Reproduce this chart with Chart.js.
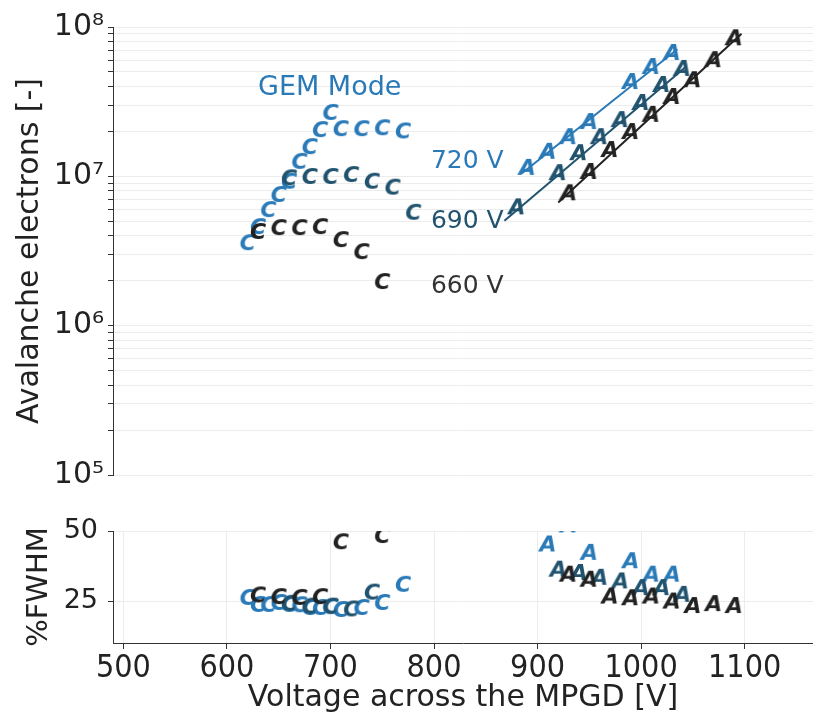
<!DOCTYPE html>
<html>
<head>
<meta charset="utf-8">
<script src="https://cdn.jsdelivr.net/npm/chart.js@4"></script>
<style>
  body { margin: 0; background: #fff; }
  #wrap { position: relative; width: 813px; height: 716px; }
  canvas { position: absolute; left: 0; }
</style>
</head>
<body>
<div id="wrap">
  <canvas id="gain" width="813" height="500" style="top:0"></canvas>
  <canvas id="fwhm" width="813" height="216" style="top:500px"></canvas>
</div>
<script>
// GEM mode (C markers)
const gemV720 = [620, 630, 640, 650, 660, 670, 680, 690, 700, 710, 730, 750, 770];
const gemGain720 = [3.57e6, 4.57e6, 5.94e6, 7.5e6, 9.2e6, 1.25e7, 1.57e7, 2.04e7, 2.66e7, 2.07e7, 2.07e7, 2.1e7, 2.0e7];
const gemFwhm720 = [26.1, 23.6, 23.6, 24.3, 23.6, 23.5, 22.5, 22.5, 22.8, 21.8, 22.5, 24.3, 30.8];

const gemV690 = [660, 680, 700, 720, 740, 760, 780];
const gemGain690 = [9.7e6, 9.9e6, 9.9e6, 1.02e7, 9.2e6, 8.4e6, 5.7e6];
const gemFwhm690 = [24, 23, 23, 22, 28, null, null];

const gemV660 = [630, 650, 670, 690, 710, 730, 750];
const gemGain660 = [4.24e6, 4.5e6, 4.5e6, 4.57e6, 3.74e6, 3.11e6, 1.96e6];
const gemFwhm660 = [27, 26.4, 26.1, 26.4, 46, null, 48.2];

// Avalanche mode (A markers)
const avV720 = [890, 910, 930, 950, 990, 1010, 1030];
const avGain720 = [1.14e7, 1.46e7, 1.83e7, 2.31e7, 4.28e7, 5.4e7, 6.7e7];
const avFwhm720 = [null, 45.2, 52, 42.2, 39.2, 34.4, 34.4];

const avV690 = [880, 920, 940, 960, 980, 1000, 1020, 1040];
const avGain690 = [6.2e6, 1.05e7, 1.43e7, 1.83e7, 2.38e7, 3.1e7, 4.09e7, 5.24e7];
const avFwhm690 = [null, 36.2, 35, 33.3, 32, 29.6, 29.6, 27.2];

const avV660 = [930, 950, 970, 990, 1010, 1030, 1050, 1070, 1090];
const avGain660 = [7.7e6, 1.07e7, 1.5e7, 1.98e7, 2.58e7, 3.4e7, 4.4e7, 6.0e7, 8.4e7];
const avFwhm660 = [34.4, 32.6, 26.6, 26, 26.6, 24.8, 23.2, 23.9, 23.2];

// exponential fits through the avalanche points (end points)
const fitV720 = [885, 1035];
const fitGain720 = [1.05e7, 7.1e7];
const fitV690 = [868, 1043];
const fitGain690 = [5.05e6, 5.4e7];
const fitV660 = [920, 1097];
const fitGain660 = [6.67e6, 9.0e7];

const xTicks = [500, 600, 700, 800, 900, 1000, 1100];
const fwhmTicks = [25, 50];

const c720 = '#2a7ab8';
const c690 = '#21536f';
const c660 = '#222222';

Chart.defaults.font.family = '"DejaVu Sans", sans-serif';
Chart.defaults.color = '#222';

function letterMarker(ch, color) {
  const c = document.createElement('canvas');
  c.width = 26; c.height = 26;
  const g = c.getContext('2d');
  g.font = 'bold italic 22px "DejaVu Sans"';
  g.fillStyle = color;
  g.textAlign = 'center';
  g.textBaseline = 'middle';
  g.fillText(ch, 13, 14);
  return c;
}

const pts = (xs, ys) => xs.map((v, i) => ({ x: v, y: ys[i] }));

function markers(xs, ys, ch, color, order) {
  return {
    data: pts(xs, ys), pointStyle: letterMarker(ch, color), order: order,
    showLine: false, pointRadius: 10, pointHoverRadius: 10
  };
}
function fitLine(xs, ys, color, order) {
  return {
    data: pts(xs, ys), showLine: true, borderColor: color, borderWidth: 2,
    pointRadius: 0, order: order
  };
}

const notes = [
  { text: 'GEM Mode', x: 630, y: 3.9e7, color: c720, size: 27 },
  { text: '720 V', x: 797, y: 1.25e7, color: c720, size: 25 },
  { text: '690 V', x: 797, y: 5.0e6, color: c690, size: 25 },
  { text: '660 V', x: 797, y: 1.84e6, color: '#333', size: 25 }
];
const notePlugin = {
  id: 'notes',
  afterDatasetsDraw(chart) {
    const { ctx, scales } = chart;
    notes.forEach(n => {
      ctx.save();
      ctx.font = n.size + 'px "DejaVu Sans"';
      ctx.fillStyle = n.color;
      ctx.textBaseline = 'middle';
      ctx.fillText(n.text, scales.x.getPixelForValue(n.x), scales.y.getPixelForValue(n.y));
      ctx.restore();
    });
  }
};

const sup = { 5: '⁵', 6: '⁶', 7: '⁷', 8: '⁸' };
const xScale = (show) => ({
  type: 'linear', min: 490, max: 1166, display: show,
  afterBuildTicks: s => { s.ticks = xTicks.map(v => ({ value: v })); },
  afterFit: s => { if (show) s.height = 73; },
  grid: { color: '#ececec', tickColor: '#333', tickLength: 6 },
  border: { color: '#333' },
  ticks: {
    font: { size: 32, family: '"DejaVu Sans Condensed", "DejaVu Sans", sans-serif' },
    padding: 0, maxRotation: 0, callback: v => String(v)
  },
  title: { display: true, text: 'Voltage across the MPGD [V]', font: { size: 30 }, padding: 0 }
});

new Chart(document.getElementById('gain'), {
  type: 'scatter',
  data: {
    datasets: [
      fitLine(fitV660, fitGain660, c660, 3),
      fitLine(fitV690, fitGain690, c690, 4),
      fitLine(fitV720, fitGain720, c720, 5),
      markers(gemV660, gemGain660, 'C', c660, 0),
      markers(gemV690, gemGain690, 'C', c690, 1),
      markers(gemV720, gemGain720, 'C', c720, 2),
      markers(avV660, avGain660, 'A', c660, 0),
      markers(avV690, avGain690, 'A', c690, 1),
      markers(avV720, avGain720, 'A', c720, 2)
    ]
  },
  options: {
    responsive: false, animation: false,
    layout: { autoPadding: false, padding: { top: 27, bottom: 25, left: 0, right: 0 } },
    plugins: { legend: { display: false }, tooltip: { enabled: false } },
    scales: {
      x: xScale(false),
      y: {
        type: 'logarithmic', min: 1e5, max: 1e8,
        afterBuildTicks: s => {
          const t = [];
          for (let e = 5; e < 8; e++) for (let m = 1; m < 10; m++) t.push({ value: m * Math.pow(10, e) });
          t.push({ value: 1e8 });
          s.ticks = t;
        },
        afterFit: s => { s.width = 113; },
        grid: { color: '#ececec', tickColor: '#333', tickLength: 5 },
        border: { color: '#333' },
        ticks: {
          font: { size: 30 }, padding: 4, autoSkip: false,
          callback: v => {
            const e = Math.round(Math.log10(v));
            return Math.abs(v - Math.pow(10, e)) < 1e-6 * v ? '10' + sup[e] : '';
          }
        },
        title: { display: true, text: 'Avalanche electrons [-]', font: { size: 30 }, padding: { top: 12, bottom: 0 } }
      }
    }
  },
  plugins: [notePlugin]
});

new Chart(document.getElementById('fwhm'), {
  type: 'scatter',
  data: {
    datasets: [
      markers(gemV660, gemFwhm660, 'C', c660, 0),
      markers(gemV690, gemFwhm690, 'C', c690, 1),
      markers(gemV720, gemFwhm720, 'C', c720, 2),
      markers(avV660, avFwhm660, 'A', c660, 0),
      markers(avV690, avFwhm690, 'A', c690, 1),
      markers(avV720, avFwhm720, 'A', c720, 2)
    ]
  },
  options: {
    responsive: false, animation: false,
    layout: { autoPadding: false, padding: { top: 31, bottom: 0, left: 0, right: 0 } },
    plugins: { legend: { display: false }, tooltip: { enabled: false } },
    scales: {
      x: xScale(true),
      y: {
        type: 'linear', min: 10, max: 50,
        afterBuildTicks: s => { s.ticks = fwhmTicks.map(v => ({ value: v })); },
        afterFit: s => { s.width = 113; },
        grid: { color: '#ececec', tickColor: '#333', tickLength: 5 },
        border: { color: '#333' },
        ticks: { font: { size: 27 }, padding: 10 },
        title: { display: true, text: '%FWHM', font: { size: 29 }, padding: { top: 22, bottom: 0 } }
      }
    }
  }
});
</script>
</body>
</html>
